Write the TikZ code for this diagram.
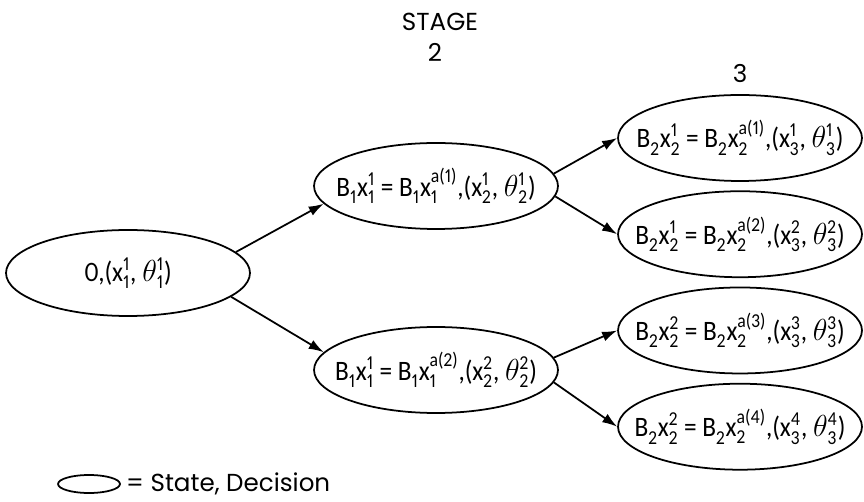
\documentclass[tikz,border=0pt]{standalone}
\usepackage{amsmath}
\usepackage{fontspec}
\setsansfont{Poppins}
\newfontfamily\stfont[Numbers=Proportional, FakeStretch=0.9]{Carlito}
\usepackage{tikz}
\usetikzlibrary{arrows.meta,positioning,shapes.geometric}
\newcommand{\sbsp}[2]{\ensuremath{_{\text{#1}}^{\text{#2}}}}
\newcommand{\stlabel}[1]{\makebox[0pt]{#1}}

\begin{document}
\begin{tikzpicture}[x=0.02cm, y=-0.02cm, >={Latex[length=0.3cm,width=0.2cm]},
  every node/.style={font=\sffamily\fontsize{14}{17}\selectfont},
  state/.style={draw, ellipse, line width=1pt, inner sep=0pt, minimum width=4.88cm, minimum height=1.72cm,
    font=\stfont\fontsize{16}{18}\selectfont},
  arr/.style={->, line width=1pt}]
  \useasboundingbox (0,0) rectangle (864,502);
  \node (stage) at (440,22) {STAGE};
  \node (two) at (435,52) {2};
  \node (three) at (740,74) {3};
  \node[state] (s1) at (128,273) {\stlabel{0,(x\sbsp{1}{1}, $\theta$\sbsp{1}{1})}};
  \node[state] (s2a) at (436,186) {\stlabel{B\sbsp{1}{}x\sbsp{1}{1} = B\sbsp{1}{}x\sbsp{1}{a(1)},(x\sbsp{2}{1}, $\theta$\sbsp{2}{1})}};
  \node[state] (s2b) at (436,370) {\stlabel{B\sbsp{1}{}x\sbsp{1}{1} = B\sbsp{1}{}x\sbsp{1}{a(2)},(x\sbsp{2}{2}, $\theta$\sbsp{2}{2})}};
  \node[state] (s3a) at (740,138) {\stlabel{B\sbsp{2}{}x\sbsp{2}{1} = B\sbsp{2}{}x\sbsp{2}{a(1)},(x\sbsp{3}{1}, $\theta$\sbsp{3}{1})}};
  \node[state, below=0.17cm of s3a] (s3b) {\stlabel{B\sbsp{2}{}x\sbsp{2}{1} = B\sbsp{2}{}x\sbsp{2}{a(2)},(x\sbsp{3}{2}, $\theta$\sbsp{3}{2})}};
  \node[state, below=0.17cm of s3b] (s3c) {\stlabel{B\sbsp{2}{}x\sbsp{2}{2} = B\sbsp{2}{}x\sbsp{2}{a(3)},(x\sbsp{3}{3}, $\theta$\sbsp{3}{3})}};
  \node[state, below=0.17cm of s3c] (s3d) {\stlabel{B\sbsp{2}{}x\sbsp{2}{2} = B\sbsp{2}{}x\sbsp{2}{a(4)},(x\sbsp{3}{4}, $\theta$\sbsp{3}{4})}};
  \draw[arr] (s1.11) -- (s2a.189);
  \draw[arr] (s1.-13) -- (s2b.171);
  \draw[arr] (s2a.6) -- (s3a.west);
  \draw[arr] (s2a.-5) -- (s3b.west);
  \draw[arr] (s2b.6) -- (s3c.west);
  \draw[arr] (s2b.-6) -- (s3d.west);
  % legend
  \node[draw, ellipse, line width=1pt, inner sep=0pt, minimum width=1.24cm, minimum height=0.36cm] (key) at (89,484) {};
  \node[inner sep=0pt, right=0.1cm of key] (keytext) {= State, Decision};
\end{tikzpicture}
\end{document}
